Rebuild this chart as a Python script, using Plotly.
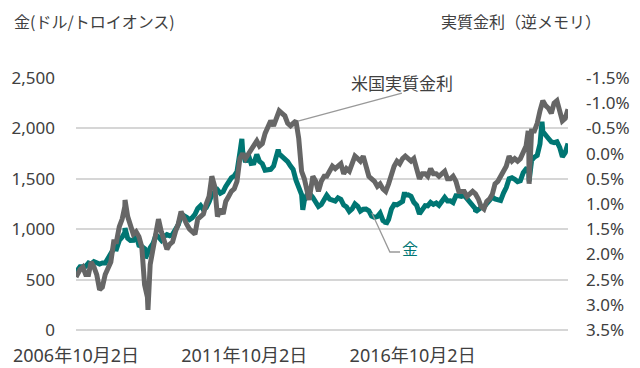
import pandas as pd
import plotly.graph_objects as go

# ---------------- data ----------------
START = "2006-10-02"
END = "2021-05-15"

# monthly gold price (USD / troy oz), Oct 2006 .. May 2021
GOLD_MONTHLY = [
    586, 628, 629,
    631, 665, 655, 679, 667, 655, 665, 665, 712, 754, 806, 803,
    889, 922, 968, 909, 888, 889, 939, 839, 829, 807, 760, 816,
    858, 943, 924, 890, 928, 946, 934, 949, 996, 1043, 1127, 1135,
    1118, 1095, 1113, 1148, 1205, 1233, 1193, 1215, 1271, 1343, 1370, 1391,
    1356, 1372, 1424, 1473, 1510, 1529, 1572, 1756, 1772, 1665, 1739, 1652,
    1656, 1742, 1673, 1650, 1585, 1596, 1594, 1626, 1744, 1747, 1722, 1684,
    1671, 1627, 1593, 1487, 1414, 1343, 1286, 1347, 1349, 1316, 1275, 1225,
    1244, 1300, 1336, 1299, 1287, 1279, 1311, 1296, 1239, 1222, 1176, 1201,
    1251, 1227, 1179, 1198, 1199, 1182, 1131, 1117, 1125, 1159, 1086, 1068,
    1097, 1200, 1246, 1242, 1260, 1276, 1337, 1341, 1326, 1267, 1236, 1152,
    1192, 1234, 1231, 1266, 1246, 1260, 1237, 1283, 1315, 1280, 1282, 1265,
    1331, 1331, 1325, 1335, 1304, 1281, 1238, 1202, 1198, 1215, 1220, 1250,
    1292, 1320, 1300, 1286, 1284, 1359, 1413, 1500, 1510, 1495, 1471, 1480,
    1560, 1597, 1592, 1683, 1715, 1732, 1846, 1968, 1922, 1900, 1866, 1858,
    1867, 1808, 1718, 1760, 1850,
]

# monthly US real interest rate (%), Oct 2006 .. May 2021
RATE_MONTHLY = [
    2.40, 2.30, 2.25,
    2.40, 2.40, 2.15, 2.25, 2.40, 2.70, 2.65, 2.40, 2.25, 2.15, 1.75, 1.75,
    1.45, 1.30, 1.05, 1.25, 1.40, 1.60, 1.55, 1.65, 1.85, 2.60, 2.85, 2.20,
    1.90, 1.60, 1.30, 1.55, 1.70, 1.90, 1.80, 1.75, 1.55, 1.40, 1.15, 1.30,
    1.40, 1.50, 1.55, 1.60, 1.30, 1.25, 1.20, 1.00, 0.85, 0.45, 0.65, 1.25,
    1.10, 1.20, 0.95, 0.85, 0.75, 0.70, 0.55, 0.10, 0.00, 0.10, 0.00, -0.05,
    -0.15, -0.25, -0.15, -0.20, -0.40, -0.55, -0.65, -0.55, -0.70, -0.85, -0.80, -0.75,
    -0.60, -0.55, -0.60, -0.65, -0.30, 0.35, 0.50, 0.70, 0.80, 0.45, 0.55, 0.75,
    0.55, 0.45, 0.45, 0.35, 0.25, 0.30, 0.25, 0.20, 0.40, 0.30, 0.35, 0.20,
    0.05, 0.10, 0.15, 0.05, 0.30, 0.45, 0.50, 0.55, 0.65, 0.60, 0.70, 0.75,
    0.60, 0.40, 0.25, 0.15, 0.20, 0.10, 0.05, 0.10, 0.15, 0.10, 0.30, 0.50,
    0.40, 0.40, 0.45, 0.30, 0.40, 0.40, 0.45, 0.40, 0.35, 0.50, 0.50, 0.45,
    0.55, 0.75, 0.75, 0.75, 0.85, 0.80, 0.75, 0.80, 0.90, 1.05, 1.10, 0.95,
    0.90, 0.80, 0.60, 0.55, 0.45, 0.30, 0.25, 0.05, 0.15, 0.10, 0.15, 0.10,
    0.00, -0.15, -0.20, -0.45, -0.45, -0.60, -0.85, -1.05, -0.95, -0.90, -0.80, -1.00,
    -1.05, -0.85, -0.65, -0.70, -0.88,
]

MONTHS = pd.date_range("2006-10-01", periods=len(GOLD_MONTHLY), freq="MS") + pd.Timedelta(days=14)

# intra-month extremes
GOLD_EXTRA_DATES = ["2006-10-02", "2008-03-17", "2008-10-24", "2011-09-06", "2012-10-04",
                    "2013-06-28", "2015-12-17", "2016-07-06", "2018-08-16", "2020-03-19",
                    "2020-08-06"]
GOLD_EXTRA = [575, 1011, 713, 1895, 1790, 1192, 1050, 1366, 1174, 1475, 2067]

RATE_EXTRA_DATES = ["2006-10-02", "2008-03-17", "2008-11-21", "2013-09-05",
                    "2020-03-09", "2020-03-19"]
RATE_EXTRA = [2.45, 0.92, 3.10, 0.92, -0.45, 0.60]

LEFT_TICKS = [0, 500, 1000, 1500, 2000, 2500]
RATE_TICKS = [-1.5, -1.0, -0.5, 0.0, 0.5, 1.0, 1.5, 2.0, 2.5, 3.0, 3.5]
RATE_TICKTEXT = ["-1.5%", "-1.0%", "-0.5%", "0.0%", "0.5%", "1.0%", "1.5%",
                 "2.0%", "2.5%", "3.0%", "3.5%"]
X_TICKS = ["2006-10-02", "2011-10-02", "2016-10-02"]
X_TICKTEXT = ["2006年10月2日", "2011年10月2日", "2016年10月2日"]


def merge(dates, vals, edates, evals):
    s = pd.Series(list(vals) + list(evals),
                  index=list(pd.to_datetime(dates)) + list(pd.to_datetime(edates)))
    return s.sort_index()


gold = merge(MONTHS, GOLD_MONTHLY, GOLD_EXTRA_DATES, GOLD_EXTRA)
rate = merge(MONTHS, RATE_MONTHLY, RATE_EXTRA_DATES, RATE_EXTRA)

TEAL = "#007673"
GRAY = "#666666"
FONT = "Noto Sans, Noto Sans CJK JP, sans-serif"
JFONT = "Noto Sans CJK JP, sans-serif"

fig = go.Figure()
fig.add_trace(go.Scatter(x=gold.index, y=gold.values, mode="lines",
                         line=dict(color=TEAL, width=5), yaxis="y", name="金"))
fig.add_trace(go.Scatter(x=rate.index, y=rate.values, mode="lines",
                         line=dict(color=GRAY, width=5), yaxis="y2", name="米国実質金利"))

# the page body adds an 8px margin, so the figure is 8px smaller on each leading edge
fig.update_layout(
    width=632, height=360,
    margin=dict(l=68, r=72, t=70, b=38, autoexpand=False),
    paper_bgcolor="white", plot_bgcolor="white",
    showlegend=False,
    font=dict(family=FONT, size=17, color="#404040"),
    xaxis=dict(type="date", range=[START, END], tickvals=X_TICKS, ticktext=X_TICKTEXT,
               showgrid=False, zeroline=False, showline=False, ticks="", automargin=False,
               ticklabelstandoff=13, tickfont=dict(size=18, color="#404040")),
    yaxis=dict(range=[0, 2500], tickvals=LEFT_TICKS, tickformat=",d", automargin=False,
               showgrid=True, gridcolor="#d6d6d6", gridwidth=1.5,
               zeroline=True, zerolinecolor="#d6d6d6", zerolinewidth=1.5,
               showline=False, ticks="", ticklabelstandoff=20),
    yaxis2=dict(range=[3.5, -1.5], overlaying="y", side="right", automargin=False,
                tickvals=RATE_TICKS, ticktext=RATE_TICKTEXT,
                showgrid=False, zeroline=False, showline=False, ticks="",
                ticklabelstandoff=17),
)

# axis titles
fig.add_annotation(xref="paper", yref="paper", x=-0.13, y=1.226, xanchor="left", yanchor="middle",
                   text="金(ドル/トロイオンス)", showarrow=False,
                   font=dict(family=JFONT, size=16, color="#404040"))
fig.add_annotation(xref="paper", yref="paper", x=1.071, y=1.226, xanchor="right", yanchor="middle",
                   text="実質金利（逆メモリ）", showarrow=False,
                   font=dict(family=JFONT, size=16, color="#404040"))

# series labels with leader lines
fig.add_shape(type="line", xref="x", yref="y", x0="2013-05-07", y0=2073, x1="2016-06-08", y1=2351,
              line=dict(color="#999999", width=1.3))
fig.add_annotation(xref="x", yref="y", x="2016-06-11", y=2460, text="米国実質金利", showarrow=False,
                   xanchor="center", yanchor="middle",
                   font=dict(family=JFONT, size=17, color="#404040"))
fig.add_shape(type="path", xref="x", yref="y",
              path="M 2015-07-18,1161 L 2016-01-29,774 L 2016-05-18,774",
              line=dict(color="#999999", width=1.3))
fig.add_annotation(xref="x", yref="y", x="2016-09-05", y=813, text="金", showarrow=False,
                   xanchor="center", yanchor="middle",
                   font=dict(family=JFONT, size=16, color=TEAL))

fig.write_html("out.html")
